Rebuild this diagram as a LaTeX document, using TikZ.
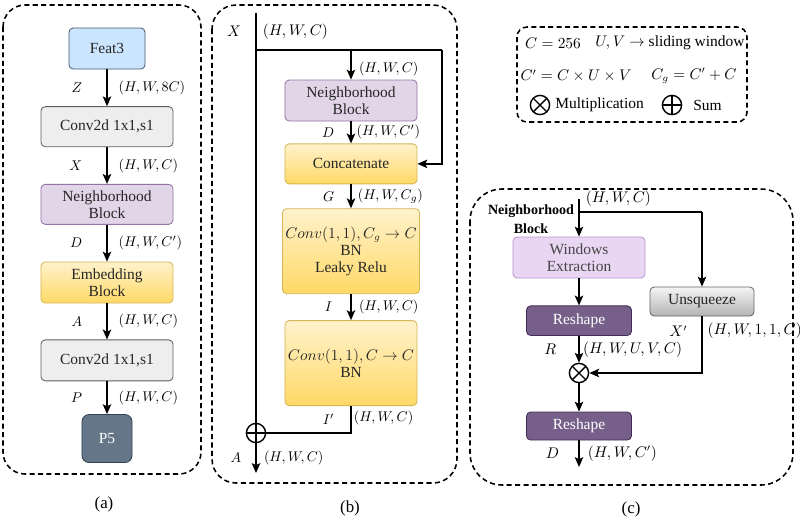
\documentclass[tikz,border=0pt]{standalone}
\usepackage[no-math]{fontspec}
\setmainfont{Liberation Serif}
\usepackage{amsmath}
\usetikzlibrary{arrows.meta, positioning}
\definecolor{featblue}{RGB}{204,229,255}
\definecolor{featline}{RGB}{70,90,115}
\definecolor{convgray}{RGB}{238,238,238}
\definecolor{convline}{RGB}{95,95,95}
\definecolor{nblilac}{RGB}{225,213,231}
\definecolor{nbline}{RGB}{150,115,166}
\definecolor{embtop}{RGB}{255,242,204}
\definecolor{embbot}{RGB}{255,217,102}
\definecolor{embline}{RGB}{214,182,86}
\definecolor{outslate}{RGB}{100,118,135}
\definecolor{outline}{RGB}{49,67,84}
\definecolor{winlilac}{RGB}{232,214,242}
\definecolor{winline}{RGB}{190,150,215}
\definecolor{wintext}{RGB}{70,70,70}
\definecolor{reshpurple}{RGB}{118,96,138}
\definecolor{reshline}{RGB}{67,45,87}
\definecolor{unsqtop}{RGB}{245,245,245}
\definecolor{unsqbot}{RGB}{179,179,179}
\definecolor{unsqline}{RGB}{102,102,102}
\newcommand\mth[1]{{\fontsize{10.5}{12}\selectfont$#1$}}

\begin{document}
\begin{tikzpicture}[
  x=0.025cm, y=-0.025cm,
  font=\fontsize{11}{12}\selectfont,
  box/.style={rectangle, rounded corners=3pt, align=center, line width=0.6pt,
              minimum width=3.3cm, minimum height=1cm, inner sep=2pt, text=black!85},
  feat/.style={fill=featblue, draw=featline, minimum width=1.9cm, minimum height=1.025cm},
  convbox/.style={fill=convgray, draw=convline},
  nbblock/.style={fill=nblilac, draw=nbline},
  embed/.style={top color=embtop, bottom color=embbot, draw=embline},
  outbox/.style={fill=outslate, draw=outline, text=white, minimum width=1.25cm,
                 minimum height=1.2cm, rounded corners=5pt},
  winbox/.style={fill=winlilac, draw=winline, text=wintext},
  reshape/.style={fill=reshpurple, draw=reshline, text=white, minimum width=2.625cm,
                  minimum height=0.74cm},
  unsq/.style={top color=unsqtop, bottom color=unsqbot, draw=unsqline,
               minimum width=2.6cm, minimum height=0.725cm},
  arrow/.style={-{Stealth[length=7pt, width=6pt, inset=1.5pt]}, line width=1.15pt},
  wire/.style={line width=1.15pt},
  dashframe/.style={dash pattern=on 3.6pt off 2.4pt, line width=1.1pt},
  dimL/.style={left=#1, inner sep=0pt, font=\fontsize{9.8}{11}\selectfont}, dimL/.default=0.6cm,
  dimR/.style={right=#1, inner sep=0pt, font=\fontsize{9.8}{11}\selectfont}, dimR/.default=0.27cm,
  bigdim/.style={font=\fontsize{10.7}{12}\selectfont},
  opsum/.style={circle, draw, line width=1pt, minimum size=0.48cm, inner sep=0pt,
    path picture={\draw[line width=1pt]
      (path picture bounding box.north) -- (path picture bounding box.south)
      (path picture bounding box.west) -- (path picture bounding box.east);}},
  opmul/.style={circle, draw, line width=1pt, minimum size=0.48cm, inner sep=0pt,
    path picture={\draw[line width=1pt]
      (path picture bounding box.north west) -- (path picture bounding box.south east)
      (path picture bounding box.north east) -- (path picture bounding box.south west);}}
]
\useasboundingbox (0,0) rectangle (800,522);

% frames
\draw[dashframe, rounded corners=0.55cm] (3,5) rectangle (201,474);
\draw[dashframe, rounded corners=0.6cm] (212,5) rectangle (457,483);
\draw[dashframe, rounded corners=0.25cm] (517,27) rectangle (747,122);
\draw[dashframe, rounded corners=0.8cm] (470,189) rectangle (793,485);

% (a)
\node[box, feat] (feat) at (107,48.5) {Feat3};
\node[box, convbox, below=0.92cm of feat] (convin) {Conv2d 1x1,s1};
\node[box, nbblock, below=0.92cm of convin] (nba) {Neighborhood\\Block};
\node[box, embed, minimum height=1.025cm, below=0.92cm of nba] (emb) {Embedding\\Block};
\node[box, convbox, minimum height=1.025cm, below=0.9cm of emb] (convout) {Conv2d 1x1,s1};
\node[box, outbox, below=0.82cm of convout] (pfive) {P5};
\draw[arrow] (feat) -- node[dimL] (zlab) {$Z$} node[dimR] (zdim) {$(H,W,8C)$} (convin);
\draw[arrow] (convin) -- node[dimL] (xlaba) {$X$} node[dimR] (xdima) {$(H,W,C)$} (nba);
\draw[arrow] (nba) -- node[dimL] (dlaba) {$D$} node[dimR] (ddima) {$(H,W,C')$} (emb);
\draw[arrow] (emb) -- node[dimL] (alaba) {$A$} node[dimR] (adima) {$(H,W,C)$} (convout);
\draw[arrow] (convout) -- node[dimL] (plab) {$P$} node[dimR] (pdim) {$(H,W,C)$} (pfive);
\node[font=\fontsize{12}{14}\selectfont] (capa) at (104,504) {(a)};

% (b)
\coordinate (xin) at (256,13);
\coordinate (bsplit) at (256,50);
\coordinate (bmid) at (351,50);
\coordinate (bturn) at (442,50);
\coordinate (bout) at (256,473);
\node[box, nbblock, minimum height=1.025cm] (nbb) at (351,100.5) {Neighborhood\\Block};
\node[box, embed, below=0.55cm of nbb] (cat) {Concatenate};
\node[box, embed, minimum height=2.125cm, below=0.6cm of cat] (convg)
  {\mth{Conv(1,1), C_g\rightarrow C}\\BN\\Leaky Relu};
\node[box, embed, minimum height=2.125cm, below=0.65cm of convg] (convc)
  {\mth{Conv(1,1), C\rightarrow C}\\BN};
\node[opsum] (sum) at (256,433) {};
\draw[wire] (xin) -- node[dimL=0.35cm, bigdim] (xlab) {$X$} node[dimR=0.15cm, bigdim] (xdim) {$(H,W,C)$} (bsplit) -- (sum);
\draw[wire] (bsplit) -- (bturn);
\draw[arrow] (bturn) |- (cat);
\draw[arrow] (bmid) -- node[pos=0.65, dimR=0.18cm] (nbdim) {$(H,W,C)$} (nbb);
\draw[arrow] (nbb) -- node[dimL=0.4cm] (dlab) {$D$} node[dimR=0.12cm] (ddim) {$(H,W,C')$} (cat);
\draw[arrow] (cat) -- node[dimL=0.4cm] (glab) {$G$} node[dimR=0.15cm] (gdim) {$(H,W,C_g)$} (convg);
\draw[arrow] (convg) -- node[dimL=0.45cm] (ilab) {$I$} node[dimR=0.18cm] (idim) {$(H,W,C)$} (convc);
\draw[wire] (convc) |- node[pos=0.25, dimL=0.4cm] (iplab) {$I'$}
  node[pos=0.22, dimR=0.05cm] (ipdim) {$(H,W,C)$} (sum);
\draw[arrow] (sum) -- node[dimL=0.35cm] (alab) {$A$} node[dimR=0.18cm] (adim) {$(H,W,C)$} (bout);
\node[font=\fontsize{12}{14}\selectfont] (capb) at (350,508) {(b)};

% legend
\node (cdef) at (553,43) {\mth{C=256}};
\node (uvdef) at (670,43) {\mth{U,V\rightarrow} sliding window};
\node (cpdef) at (576,76) {\mth{C'=C\times U\times V}};
\node (cgdef) at (694,76) {\mth{C_g=C'+C}};
\node[opmul] (mulkey) at (540,105) {};
\node[right=0cm of mulkey] (multxt) {Multiplication};
\node[opsum] (sumkey) at (672,105) {};
\node[right=0.15cm of sumkey] (sumtxt) {Sum};

% (c)
\coordinate (nin) at (579,199);
\coordinate (nsplit) at (579,212);
\coordinate (nturn) at (702,212);
\coordinate (dout) at (579,467);
\node[font=\bfseries\fontsize{10}{13.5}\selectfont, align=center, inner sep=0pt] (nbtitle)
  at (531,219.5) {Neighborhood\\Block};
\node[box, winbox, minimum height=1.025cm] (win) at (579,257.5) {Windows\\Extraction};
\node[box, reshape, below=0.675cm of win] (reshA) {Reshape};
\node[box, unsq] (unsq) at (702,301.5) {Unsqueeze};
\node[opmul] (mul) at (579,373) {};
\node[box, reshape, minimum height=0.7cm] (reshB) at (579,426) {Reshape};
\draw[arrow] (nin) node[right=0.15cm, inner sep=0pt, bigdim] (indim) {$(H,W,C)$} -- (win);
\draw[wire] (nsplit) -- (nturn);
\draw[arrow] (nturn) -- (unsq);
\draw[arrow] (win) -- (reshA);
\draw[arrow] (reshA) -- node[dimL=0.55cm, bigdim] (rlab) {$R$} node[dimR=0.08cm, bigdim] (rdim) {$(H,W,U,V,C)$} (mul);
\draw[arrow] (unsq) |- node[pos=0.13, dimL=0.35cm, bigdim] (xplab) {$X'$}
  node[pos=0.13, dimR=0.12cm, bigdim] (xpdim) {$(H,W,1,1,C)$} (mul);
\draw[arrow] (mul) -- (reshB);
\draw[arrow] (reshB) -- node[dimL=0.48cm, bigdim] (dlabc) {$D$} node[dimR=0.2cm, bigdim] (ddimc) {$(H,W,C')$} (dout);
\node[font=\fontsize{12}{14}\selectfont] (capc) at (631,509) {(c)};
\end{tikzpicture}
\end{document}
